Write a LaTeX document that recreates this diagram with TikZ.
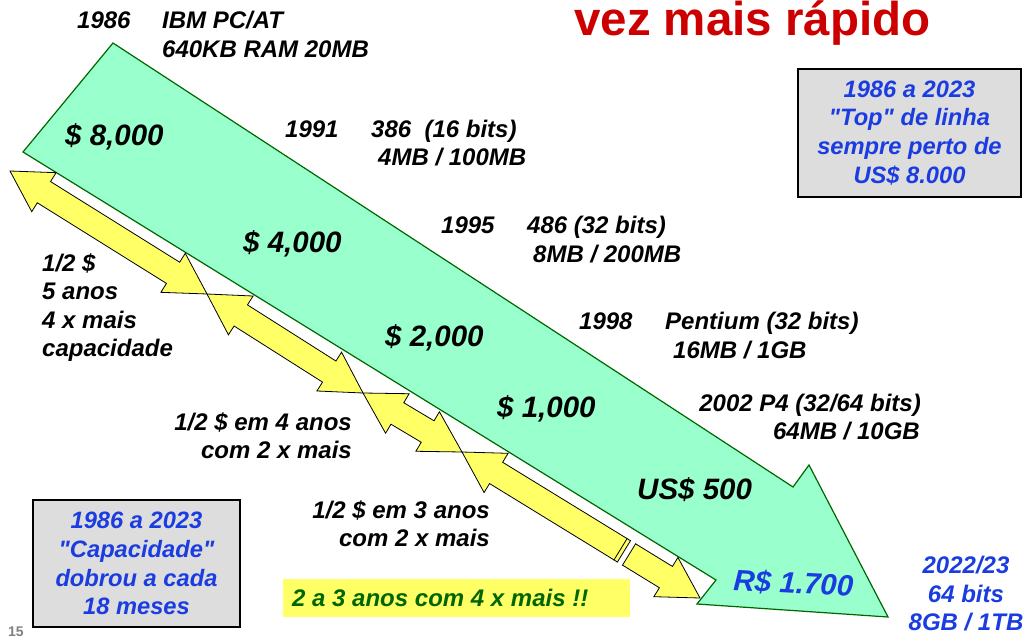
\documentclass[tikz,border=0pt]{standalone}
\usepackage{fontspec}
\setmainfont{Liberation Sans}
\newfontfamily\qfont{Liberation Sans}
\usetikzlibrary{calc}
\definecolor{arrowgreen}{HTML}{99FFCC}
\definecolor{edgegreen}{HTML}{006600}
\definecolor{ylw}{HTML}{FFFF66}
\definecolor{titlered}{HTML}{CC0000}
\definecolor{txtblue}{HTML}{1A3CE0}
\definecolor{boxgray}{HTML}{DDDDDD}
\definecolor{txtgreen}{HTML}{006600}
\definecolor{pagegray}{HTML}{808080}
\def\yhl{40pt}
\def\yhw{23pt}
\def\ysw{12.5pt}
\newcommand\sq{{\qfont\char34}}
\newcommand\dblarrow[2]{%
 \draw[yarrow] (#1)
  -- ($(#1)!\yhl!(#2)!\yhw!90:(#2)$)
  -- ($(#1)!\yhl!(#2)!\ysw!90:(#2)$)
  -- ($(#2)!\yhl!(#1)!\ysw!-90:(#1)$)
  -- ($(#2)!\yhl!(#1)!\yhw!-90:(#1)$)
  -- (#2)
  -- ($(#2)!\yhl!(#1)!\yhw!90:(#1)$)
  -- ($(#2)!\yhl!(#1)!\ysw!90:(#1)$)
  -- ($(#1)!\yhl!(#2)!\ysw!-90:(#2)$)
  -- ($(#1)!\yhl!(#2)!\yhw!-90:(#2)$)
  -- cycle;}
\begin{document}
\begin{tikzpicture}[x=1pt,y=-1pt,
  yarrow/.style={fill=ylw,draw=black,line width=0.8pt,line join=miter},
  bigarrow/.style={fill=arrowgreen,draw=edgegreen,line width=1.2pt,line join=miter},
  lbl/.style={font=\fontsize{24}{28.5}\selectfont\bfseries\itshape,inner sep=0pt,anchor=base west},
  lble/.style={lbl,anchor=base east},
  price/.style={font=\fontsize{29.5}{34}\selectfont\bfseries\itshape,inner sep=0pt,anchor=base west},
  bluelbl/.style={lbl,text=txtblue,anchor=base},
  graybox/.style={fill=boxgray,draw=black,line width=2pt,text=txtblue,align=center,
    font=\fontsize{23.7}{28.8}\selectfont\bfseries\itshape,inner sep=0pt}]
\useasboundingbox (0,0) rectangle (1026,637);

% big green arrow
\draw[bigarrow] (113,43) -- (793,487) -- (809,465) -- (888,617) -- (697,604) -- (716,580) -- (23,152) -- cycle;

% yellow double arrows
\coordinate (Y0) at (10,171);
\coordinate (Y1) at (207,294);
\coordinate (Y2) at (363,393);
\coordinate (Y3) at (462,452);
\coordinate (Y4) at (700,598);
\dblarrow{Y0}{Y1}
\dblarrow{Y1}{Y2}
\dblarrow{Y2}{Y3}
\dblarrow{Y3}{Y4}
% break marks
\fill[white] ($(Y3)!190pt!(Y4)!14pt!90:(Y4)$) -- ($(Y3)!196pt!(Y4)!14pt!90:(Y4)$)
  -- ($(Y3)!196pt!(Y4)!14pt!-90:(Y4)$) -- ($(Y3)!190pt!(Y4)!14pt!-90:(Y4)$) -- cycle;
\draw[line width=0.8pt] ($(Y3)!186pt!(Y4)!13pt!90:(Y4)$) -- ($(Y3)!186pt!(Y4)!13pt!-90:(Y4)$);
\draw[line width=0.8pt] ($(Y3)!190pt!(Y4)!13pt!90:(Y4)$) -- ($(Y3)!190pt!(Y4)!13pt!-90:(Y4)$);
\draw[line width=0.8pt] ($(Y3)!196pt!(Y4)!13pt!90:(Y4)$) -- ($(Y3)!196pt!(Y4)!13pt!-90:(Y4)$);

% title
\node[inner sep=0pt,anchor=base west,text=titlered,font=\fontsize{47.5}{50}\selectfont\bfseries] (title) at (574,35) {vez mais rápido};

% year labels
\node[lbl] (y86) at (77,28) {1986};
\node[lbl] (y86a) at (162,28) {IBM PC/AT};
\node[lbl] (y86b) at (162,57) {640KB RAM 20MB};
\node[lbl] (y91) at (285,137) {1991};
\node[lbl] (y91a) at (371,137) {386~~(16 bits)};
\node[lbl] (y91b) at (378,165) {4MB / 100MB};
\node[lbl] (y95) at (441,233) {1995};
\node[lbl] (y95a) at (527,233) {486 (32 bits)};
\node[lbl] (y95b) at (533,262) {8MB / 200MB};
\node[lbl] (y98) at (579,329) {1998};
\node[lbl] (y98a) at (665,329) {Pentium (32 bits)};
\node[lbl] (y98b) at (673,358) {16MB / 1GB};
\node[lble] (y02a) at (921,411) {2002 P4 (32/64 bits)};
\node[lble] (y02b) at (920,439) {64MB / 10GB};

% prices
\node[price] (p8) at (65,145) {\$ 8,000};
\node[price] (p4) at (243,252) {\$ 4,000};
\node[price] (p2) at (385,346) {\$ 2,000};
\node[price] (p1) at (497,417) {\$ 1,000};
\node[price] (p05) at (637,499) {US\$ 500};
\node[price,text=txtblue,rotate=-3] (pr) at (733,590) {R\$ 1.700};

% left labels
\node[lbl] (l1) at (42,271) {1/2 \$};
\node[lbl] (l2) at (42,299) {5 anos};
\node[lbl] (l3) at (42,328) {4 x mais};
\node[lbl] (l4) at (42,356) {capacidade};
\node[lble] (m1) at (352,430) {1/2 \$ em 4 anos};
\node[lble] (m2) at (352,458) {com 2 x mais};
\node[lble] (n1) at (490,518) {1/2 \$ em 3 anos};
\node[lble] (n2) at (490,546) {com 2 x mais};

% right bottom blue
\node[bluelbl] (r1) at (966,573) {2022/23};
\node[bluelbl] (r2) at (966,602) {64 bits};
\node[bluelbl] (r3) at (966,630) {8GB / 1TB};

% boxes
\node[graybox,minimum width=223pt,minimum height=128pt] (topbox) at (909.5,133)
  {1986 a 2023\\\sq Top\sq\ de linha\\sempre perto de\\US\$ 8.000};
\node[graybox,minimum width=207pt,minimum height=127pt] (capbox) at (136.5,563.5)
  {1986 a 2023\\\sq Capacidade\sq\\dobrou a cada\\18 meses};

% highlight
\node[fill=ylw,inner sep=0pt,minimum width=347pt,minimum height=38pt,anchor=north west] (hlbox) at (283,579) {};
\node[lbl,text=txtgreen] (hltext) at (292,606) {2 a 3 anos com 4 x mais !!};

% page number
\node[inner sep=0pt,anchor=base west,text=pagegray,font=\fontsize{14}{16}\selectfont\bfseries] (pg) at (8,636) {15};
\end{tikzpicture}
\end{document}
